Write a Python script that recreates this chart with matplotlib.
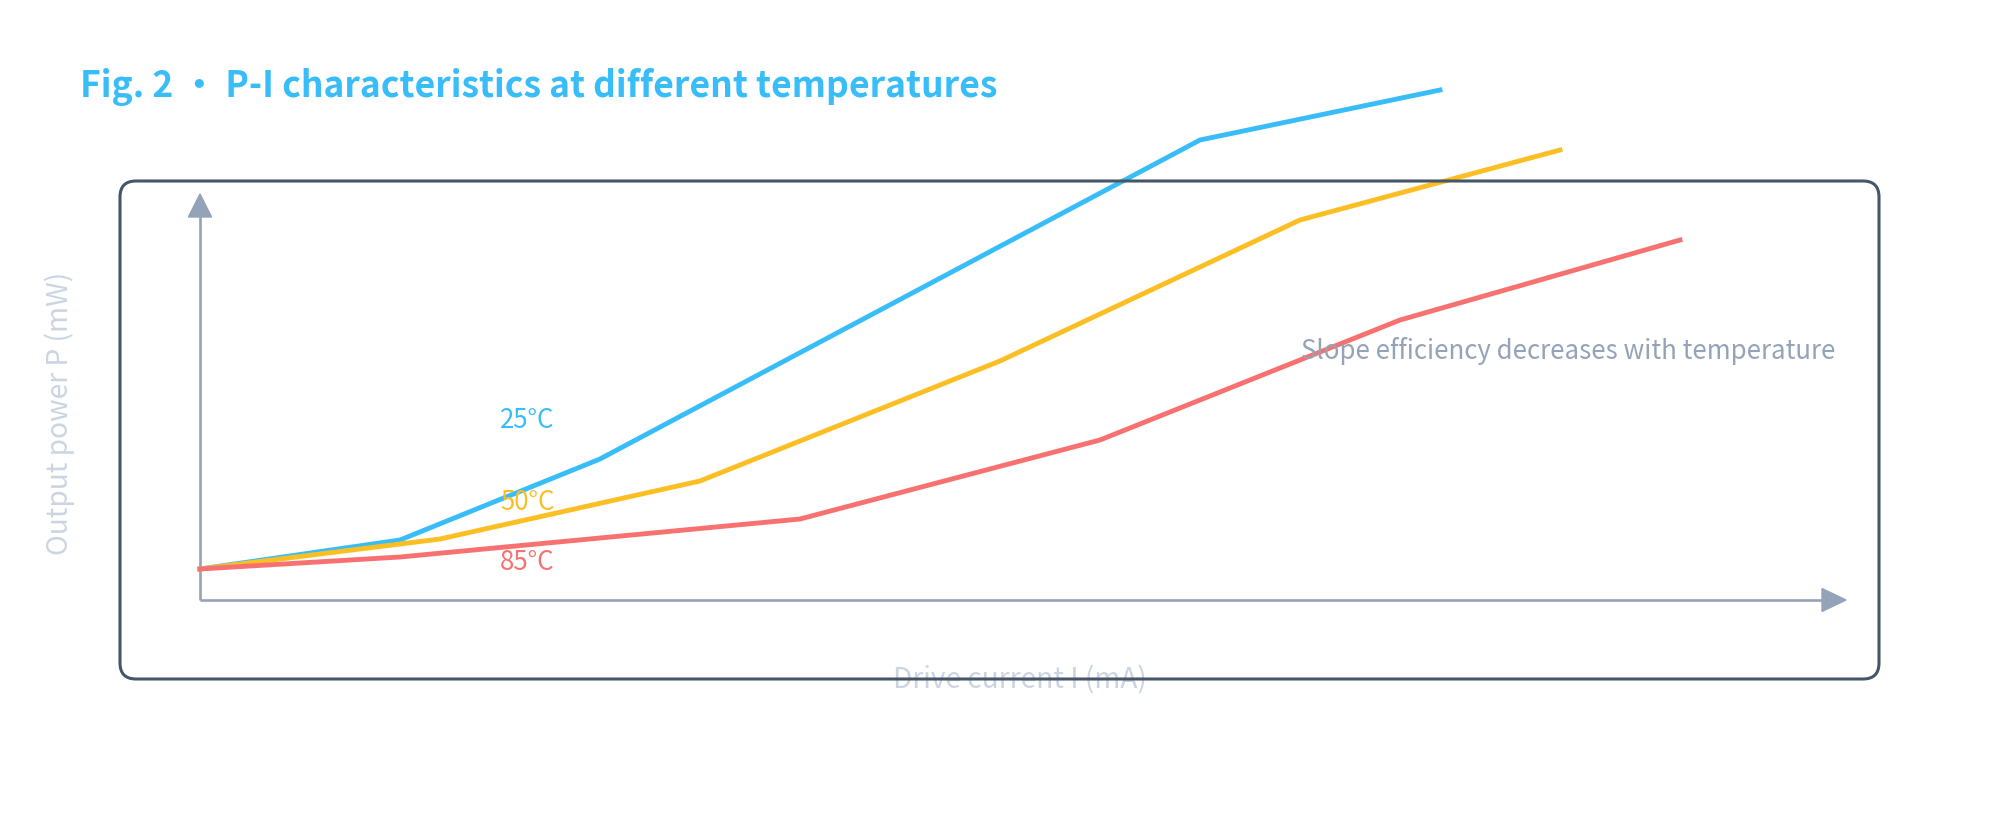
import matplotlib
matplotlib.use("Agg")
import matplotlib.pyplot as plt
from matplotlib.patches import FancyBboxPatch, Polygon

plt.rcParams['font.family'] = ['Noto Sans CJK SC', 'DejaVu Sans']

# Data (drive current in mA, output power in mW)
i_25 = [0, 10, 20, 50, 62]
p_25 = [3.1, 6.0, 14.1, 46.0, 51.0]
i_50 = [0, 12, 25, 40, 55, 68]
p_50 = [3.1, 6.1, 11.9, 23.9, 38.0, 45.0]
i_85 = [0, 10, 30, 45, 60, 74]
p_85 = [3.1, 4.3, 8.1, 16.0, 28.0, 36.0]
series_labels = ["25°C", "50°C", "85°C"]
colors = ["#38bdf8", "#fbbf24", "#f87171"]

title = "Fig. 2 • P-I characteristics at different temperatures"
xlabel = "Drive current I (mA)"
ylabel = "Output power P (mW)"
note = "Slope efficiency decreases with temperature"

fig = plt.figure(figsize=(20, 8.4), dpi=100)
ax = fig.add_axes([0, 0, 1, 1])
ax.set_xlim(-10, 90)
ax.set_ylim(-24, 60)
ax.axis('off')

# rounded frame (figure pixel coords)
W, H = 2000, 840
box = FancyBboxPatch((120 / W, (840 - 679) / H), (1879 - 120) / W, (679 - 181) / H,
                     boxstyle="round,pad=0,rounding_size=0.008",
                     transform=fig.transFigure, fill=False,
                     edgecolor="#475569", linewidth=2.2, zorder=1,
                     mutation_aspect=W / H)
fig.patches.append(box)

axis_c = "#94a3b8"
# y axis with arrow
ax.plot([0, 0], [0, 38.4], color=axis_c, lw=1.9, solid_capstyle='butt', zorder=2)
ax.add_patch(Polygon([[-0.58, 38.3], [0.58, 38.3], [0, 40.6]], closed=True,
                     color=axis_c, zorder=2))
# x axis with arrow
ax.plot([0, 81.2], [0, 0], color=axis_c, lw=1.9, solid_capstyle='butt', zorder=2)
ax.add_patch(Polygon([[81.1, -1.15], [81.1, 1.15], [82.3, 0]], closed=True,
                     color=axis_c, zorder=2))

for xs, ys, c in zip([i_25, i_50, i_85], [p_25, p_50, p_85], colors):
    ax.plot(xs, ys, color=c, lw=3.5, solid_joinstyle='miter', zorder=3)

label_y = [17.9, 9.8, 3.8]
for lab, c, y in zip(series_labels, colors, label_y):
    ax.text(15, y, lab, color=c, fontsize=18.6, ha='left', va='center', zorder=4)

ax.text(55.05, 24.9, note, color="#94a3b8", fontsize=18.6, ha='left', va='center', zorder=4)

ax.text(41, -8.0, xlabel, color="#cbd5e1", fontsize=20.2, ha='center', va='center', zorder=4)
ax.text(-7, 18.7, ylabel, color="#cbd5e1", fontsize=20.2, ha='center', va='center',
        rotation=90, zorder=4)

fig.text(80 / W, 1 - 87 / H, title, color="#38bdf8", fontsize=25.6, fontweight='bold',
         ha='left', va='center')

fig.savefig("out.png", dpi=100, facecolor="white")
